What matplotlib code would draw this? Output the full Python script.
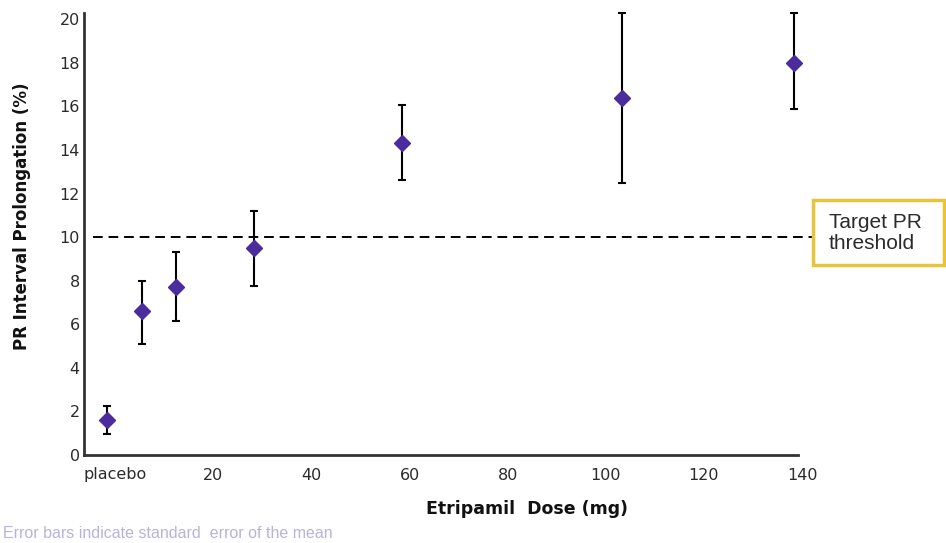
import numpy as np
import matplotlib.pyplot as plt
from matplotlib.patches import Rectangle
from matplotlib.transforms import ScaledTranslation

# values
doses = [0, 7, 14, 30, 60, 105, 140]
meanPR = [1.6, 6.6, 7.7, 9.5, 14.3, 16.4, 18.0]
upperPR = [2.25, 8.0, 9.3, 11.2, 16.05, 20.3, 20.3]
lowerPR = [0.95, 5.1, 6.15, 7.75, 12.6, 12.5, 15.9]
targetThreshold = 10
xTicks = [0, 20, 40, 60, 80, 100, 120, 140]
xTickLabels = ['placebo', '20', '40', '60', '80', '100', '120', '140']
yTicks = [0, 2, 4, 6, 8, 10, 12, 14, 16, 18, 20]

purple = '#4b2c9c'
gold = '#e9c43a'
textColor = '#2b2b2b'

fig = plt.figure(figsize=(9.46, 5.43), dpi=100)
ax = fig.add_axes([84 / 946, 1 - 455 / 543, (798 - 84) / 946, (455 - 12.7) / 543])

# error bars with diamond markers
mean = np.array(meanPR)
yerr = [mean - np.array(lowerPR), np.array(upperPR) - mean]
ax.errorbar(doses, meanPR, yerr=yerr, fmt='D', color=purple, markersize=8,
            ecolor='black', elinewidth=1.5, capsize=3.2, capthick=1.5,
            clip_on=False, zorder=3)

# target threshold line, runs on past the axes to the label box
ax.axhline(targetThreshold, xmin=0.012, xmax=(812 - 84) / 714, color='black',
           lw=1.4, linestyle=(0, (5, 3)), clip_on=False)

ax.set_xlim(-4.75, 140.8)
ax.set_ylim(0, 20.3)
ax.set_xticks(xTicks)
ax.set_xticklabels(xTickLabels)
ax.set_yticks(yTicks)
ax.tick_params(axis='x', length=0, pad=9, labelsize=11.5, labelcolor=textColor)
ax.tick_params(axis='y', length=0, pad=3, labelsize=11.5, labelcolor=textColor)
shift = ScaledTranslation(8 / 100, 0, fig.dpi_scale_trans)
for label in ax.get_xticklabels():
    label.set_transform(label.get_transform() + shift)

for side in ['top', 'right']:
    ax.spines[side].set_visible(False)
for side in ['left', 'bottom']:
    ax.spines[side].set_linewidth(2)
    ax.spines[side].set_color('#333333')

ax.set_ylabel('PR Interval Prolongation (%)', fontsize=12, fontweight='bold', color='#111111')
ax.yaxis.set_label_coords(-0.074, 0.54)
ax.set_xlabel('Etripamil  Dose (mg)', fontsize=12.5, fontweight='bold', color='#111111')
ax.xaxis.set_label_coords(0.62, -0.102)

# label box for the threshold line
fig.add_artist(Rectangle((813 / 946, 1 - 265 / 543), (944 - 813) / 946, 65 / 543,
                         transform=fig.transFigure, fill=False, edgecolor=gold, lw=2.5))
fig.text(829 / 946, 1 - 233 / 543, 'Target PR\nthreshold', ha='left', va='center',
         fontsize=15, family='Liberation Sans', color=textColor, linespacing=1.1)

fig.text(3 / 946, 1 - 534 / 543, 'Error bars indicate standard  error of the mean',
         ha='left', va='center', fontsize=11.5, family='Liberation Sans', color='#b8b3da')

fig.savefig('out.png', dpi=100)
